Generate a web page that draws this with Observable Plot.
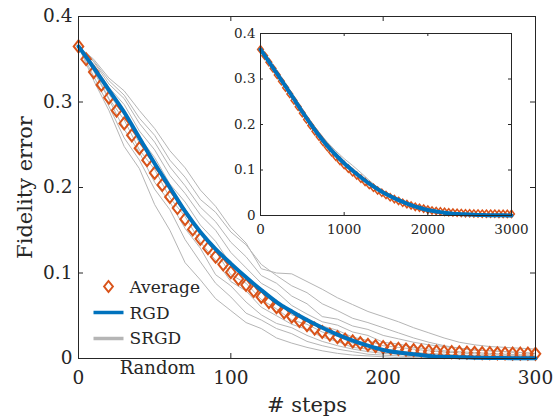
<!DOCTYPE html>
<html><head><meta charset="utf-8">
<script src="https://cdn.jsdelivr.net/npm/d3@7"></script>
<script src="https://cdn.jsdelivr.net/npm/@observablehq/plot@0.6"></script>
<style>
body{margin:0;background:#fff;}
#wrap{position:relative;width:557px;height:420px;}
#inset{position:absolute;left:220px;top:10px;}
svg{font-family:"DejaVu Serif",serif;}
</style></head><body>
<div id="wrap"><div id="main"></div><div id="inset"></div></div>
<script>
// ---------- DATA ----------
const xTicksMain = [0, 100, 200, 300];
const yTicksMain = [0, 0.1, 0.2, 0.3, 0.4];
const xTicksInset = [0, 1000, 2000, 3000];
const yTicksInset = [0, 0.1, 0.2, 0.3, 0.4];

// main plot: RGD sampled every 10 steps (0..300)
const stepsMain = d3.range(0, 301, 10);
const rgdMain = [0.365,0.340,0.314,0.288,0.258,0.228,0.200,0.172,0.148,0.128,0.111,0.095,0.080,0.066,0.055,0.045,0.036,0.028,0.021,0.015,0.010,0.007,0.005,0.003,0.002,0.0015,0.001,0.0007,0.0005,0.0003,0.0002];

// main plot: Average markers every 5 steps (0..300)
const stepsAvg = d3.range(0, 301, 5);
const avgMain = [0.365,0.350,0.335,0.320,0.305,0.290,0.275,0.261,0.246,0.232,
  0.217,0.203,0.189,0.176,0.163,0.151,0.140,0.129,0.119,0.110,
  0.101,0.093,0.086,0.079,0.072,0.066,0.060,0.054,0.049,0.044,
  0.039,0.035,0.031,0.028,0.025,0.022,0.020,0.018,0.016,0.0145,
  0.0133,0.0122,0.0112,0.0104,0.0097,0.0091,0.0086,0.0081,0.0077,0.0074,
  0.0071,0.0068,0.0066,0.0064,0.0062,0.0060,0.0059,0.0058,0.0057,0.0056,
  0.0055];

// main plot: SRGD runs, every 10 steps (0..300)
const srgd1 = [0.365,0.325,0.290,0.248,0.222,0.180,0.150,0.112,0.092,0.070,0.056,0.042,0.035,0.024,0.018,0.013,0.009,0.006,0.004,0.003,0.002,0.001,0.001,0.0005,0.0004,0.0003,0.0002,0.0002,0.0001,0.0001,0.0001];
const srgd2 = [0.365,0.330,0.295,0.258,0.232,0.198,0.174,0.139,0.113,0.088,0.072,0.053,0.045,0.035,0.029,0.020,0.015,0.011,0.008,0.005,0.004,0.003,0.002,0.0015,0.001,0.0008,0.0006,0.0005,0.0004,0.0003,0.0002];
const srgd3 = [0.365,0.336,0.303,0.268,0.241,0.206,0.183,0.152,0.129,0.098,0.085,0.066,0.051,0.041,0.036,0.027,0.020,0.015,0.011,0.008,0.006,0.005,0.004,0.003,0.0025,0.002,0.0018,0.0015,0.0013,0.0012,0.001];
const srgd4 = [0.365,0.338,0.304,0.279,0.244,0.221,0.188,0.166,0.136,0.115,0.090,0.079,0.060,0.050,0.040,0.034,0.025,0.020,0.013,0.011,0.008,0.006,0.0045,0.0035,0.003,0.0025,0.002,0.0017,0.0014,0.0012,0.001];
const srgd5 = [0.365,0.340,0.309,0.285,0.252,0.228,0.196,0.175,0.147,0.126,0.098,0.088,0.069,0.058,0.045,0.040,0.031,0.026,0.018,0.015,0.011,0.009,0.007,0.006,0.005,0.004,0.0035,0.003,0.0027,0.0023,0.002];
const srgd6 = [0.365,0.342,0.313,0.291,0.259,0.235,0.204,0.183,0.156,0.137,0.110,0.095,0.078,0.068,0.051,0.046,0.038,0.033,0.025,0.021,0.015,0.013,0.011,0.009,0.0075,0.0065,0.0055,0.0045,0.004,0.0035,0.003];
const srgd7 = [0.365,0.344,0.317,0.297,0.266,0.244,0.214,0.193,0.168,0.150,0.124,0.106,0.088,0.078,0.062,0.052,0.043,0.039,0.031,0.027,0.019,0.017,0.013,0.011,0.009,0.008,0.007,0.006,0.005,0.0045,0.004];
const srgd8 = [0.365,0.347,0.321,0.304,0.275,0.253,0.224,0.202,0.177,0.160,0.136,0.119,0.097,0.088,0.073,0.064,0.049,0.046,0.038,0.034,0.027,0.023,0.019,0.016,0.014,0.012,0.010,0.009,0.008,0.007,0.006];
const srgd9 = [0.365,0.348,0.325,0.308,0.281,0.261,0.232,0.212,0.186,0.171,0.148,0.133,0.110,0.097,0.085,0.077,0.064,0.056,0.047,0.042,0.036,0.030,0.024,0.019,0.015,0.012,0.010,0.009,0.008,0.007,0.006];
const srgd10 = [0.365,0.350,0.328,0.313,0.290,0.269,0.243,0.223,0.197,0.178,0.153,0.135,0.105,0.100,0.099,0.090,0.081,0.071,0.063,0.055,0.049,0.043,0.036,0.030,0.024,0.019,0.016,0.014,0.013,0.012,0.011];

// inset: every 100 steps (0..3000)
const stepsInset = d3.range(0, 3001, 100);
const rgdInset = [0.365,0.338,0.311,0.284,0.256,0.228,0.201,0.176,0.153,0.133,0.115,0.099,0.084,0.070,0.058,0.047,0.038,0.030,0.023,0.017,0.012,0.009,0.006,0.004,0.003,0.002,0.0012,0.0008,0.0005,0.0003,0.0002];
const srgdInset1 = [0.365,0.339,0.313,0.287,0.260,0.233,0.207,0.183,0.161,0.142,0.125,0.110,0.094,0.077,0.062,0.050,0.040,0.031,0.024,0.018,0.013,0.009,0.007,0.005,0.003,0.002,0.0015,0.001,0.0007,0.0005,0.0003];
const srgdInset2 = [0.365,0.336,0.307,0.279,0.251,0.223,0.196,0.171,0.148,0.128,0.110,0.094,0.079,0.066,0.054,0.044,0.035,0.027,0.021,0.015,0.011,0.008,0.005,0.004,0.003,0.002,0.001,0.0008,0.0005,0.0003,0.0002];
const srgdInset3 = [0.365,0.338,0.312,0.285,0.258,0.230,0.204,0.180,0.157,0.137,0.118,0.102,0.087,0.073,0.060,0.049,0.039,0.030,0.023,0.017,0.012,0.009,0.006,0.004,0.003,0.002,0.0013,0.0009,0.0006,0.0004,0.0003];
// inset average every 50 steps
const stepsInsetAvg = d3.range(0, 3001, 50);
const avgInset = [0.365,0.351,0.337,0.323,0.309,0.295,0.281,0.267,0.253,0.239,
  0.225,0.211,0.198,0.185,0.173,0.161,0.150,0.139,0.129,0.120,
  0.111,0.103,0.095,0.088,0.081,0.074,0.067,0.061,0.055,0.050,
  0.045,0.040,0.036,0.032,0.028,0.025,0.022,0.019,0.017,0.015,
  0.013,0.011,0.010,0.009,0.008,0.007,0.0065,0.006,0.0055,0.005,
  0.005,0.0045,0.0045,0.004,0.004,0.004,0.004,0.0035,0.0035,0.0035,
  0.0035];

const legendLabels = ["Average", "RGD", "SRGD"];
const xLabel = "# steps";
const yLabel = "Fidelity error";
const noteLabel = "Random";

// ---------- STYLE ----------
const blue = "#0072BD", orange = "#D95319", grey = "#b5b5b5", ink = "#262626";
const font = "DejaVu Serif";

const diamond = {draw(ctx, size) {
  const r = Math.sqrt(size / Math.PI), w = r * 0.8;
  ctx.moveTo(0, -r); ctx.lineTo(w, 0); ctx.lineTo(0, r); ctx.lineTo(-w, 0); ctx.closePath();
}};
const hline = {draw(ctx, size) {
  const r = Math.sqrt(size / Math.PI);
  ctx.moveTo(-r, 0); ctx.lineTo(r, 0);
}};

const toRows = (xs, ys, run = 0) => ys.map((v, i) => ({step: xs[i], v, run}));
const srgdMainRows = [srgd1,srgd2,srgd3,srgd4,srgd5,srgd6,srgd7,srgd8,srgd9,srgd10].flatMap((s, i) => toRows(stepsMain, s, i));
const rgdMainRows = toRows(stepsMain, rgdMain);
const avgMainRows = toRows(stepsAvg, avgMain);
const srgdInsetRows = [srgdInset1, srgdInset2, srgdInset3].flatMap((s, i) => toRows(stepsInset, s, i));
const rgdInsetRows = toRows(stepsInset, rgdInset);
const avgInsetRows = toRows(stepsInsetAvg, avgInset);

// ---------- MAIN ----------
const W = 557, H = 420, mL = 78, mR = 22, mT = 16, mB = 62;
const pW = W - mL - mR, pH = H - mT - mB, tk = 5;
const txt = {fill: ink, lineAnchor: "middle"};

const main = Plot.plot({
  width: W, height: H, marginLeft: mL, marginRight: mR, marginTop: mT, marginBottom: mB,
  style: {fontFamily: font, background: "white", color: ink, overflow: "visible"},
  x: {domain: [0, 300]},
  y: {domain: [0, 0.4]},
  marks: [
    Plot.line(srgdMainRows, {x: "step", y: "v", z: "run", stroke: grey, strokeWidth: 1}),
    Plot.dot(avgMainRows, {x: "step", y: "v", symbol: diamond, r: 6, stroke: orange, strokeWidth: 2, fill: "none"}),
    Plot.line(rgdMainRows, {x: "step", y: "v", stroke: blue, strokeWidth: 4, curve: "monotone-x"}),
    Plot.frame({stroke: ink}),
    Plot.tickX(xTicksMain, {x: d => d, insetTop: pH - tk, stroke: ink}),
    Plot.tickX(xTicksMain, {x: d => d, insetBottom: pH - tk, stroke: ink}),
    Plot.tickY(yTicksMain, {y: d => d, insetRight: pW - tk, stroke: ink}),
    Plot.tickY(yTicksMain, {y: d => d, insetLeft: pW - tk, stroke: ink}),
    Plot.axisX(xTicksMain, {tickSize: 0, tickPadding: 12, fontSize: 18.5, label: null, tickFormat: d => String(d), fill: ink}),
    Plot.axisY(yTicksMain, {tickSize: 0, tickPadding: 6, fontSize: 18.5, label: null, tickFormat: d => String(d), fill: ink}),
    Plot.text([xLabel], {...txt, frameAnchor: "bottom", textAnchor: "middle", dy: 47, fontSize: 21}),
    Plot.text([yLabel], {...txt, frameAnchor: "left", textAnchor: "middle", dx: -53, rotate: -90, fontSize: 21}),
    Plot.text([noteLabel], {...txt, frameAnchor: "bottom-left", textAnchor: "middle", dx: 79, dy: 9.5, fontSize: 18}),
    // legend
    Plot.dot([legendLabels[0]], {frameAnchor: "bottom-left", dx: 30, dy: -72, symbol: diamond, r: 5.5, stroke: orange, strokeWidth: 2, fill: "none"}),
    Plot.dot([legendLabels[1]], {frameAnchor: "bottom-left", dx: 30, dy: -46, symbol: hline, r: 15, stroke: blue, strokeWidth: 3.5, fill: "none"}),
    Plot.dot([legendLabels[2]], {frameAnchor: "bottom-left", dx: 30, dy: -20, symbol: hline, r: 15, stroke: grey, strokeWidth: 3.5, fill: "none"}),
    Plot.text([legendLabels[0]], {...txt, frameAnchor: "bottom-left", dx: 51, dy: -71, textAnchor: "start", fontSize: 17}),
    Plot.text([legendLabels[1]], {...txt, frameAnchor: "bottom-left", dx: 51, dy: -45, textAnchor: "start", fontSize: 17}),
    Plot.text([legendLabels[2]], {...txt, frameAnchor: "bottom-left", dx: 51, dy: -20, textAnchor: "start", fontSize: 17})
  ]
});
document.getElementById("main").append(main);

// ---------- INSET ----------
const iW = 320, iH = 230, iL = 40, iR = 29, iT = 23, iB = 25;
const ipW = iW - iL - iR, ipH = iH - iT - iB, itk = 3;
const inset = Plot.plot({
  width: iW, height: iH, marginLeft: iL, marginRight: iR, marginTop: iT, marginBottom: iB,
  style: {fontFamily: font, background: "transparent", color: ink, overflow: "visible"},
  x: {domain: [0, 3000]},
  y: {domain: [0, 0.4]},
  marks: [
    Plot.frame({fill: "white", stroke: null}),
    Plot.line(srgdInsetRows, {x: "step", y: "v", z: "run", stroke: grey, strokeWidth: 1}),
    Plot.dot(avgInsetRows, {x: "step", y: "v", symbol: diamond, r: 3.6, stroke: orange, strokeWidth: 1.5, fill: "none"}),
    Plot.line(rgdInsetRows, {x: "step", y: "v", stroke: blue, strokeWidth: 4, curve: "monotone-x"}),
    Plot.frame({stroke: ink}),
    Plot.tickX(xTicksInset, {x: d => d, insetTop: ipH - itk, stroke: ink}),
    Plot.tickX(xTicksInset, {x: d => d, insetBottom: ipH - itk, stroke: ink}),
    Plot.tickY(yTicksInset, {y: d => d, insetRight: ipW - itk, stroke: ink}),
    Plot.tickY(yTicksInset, {y: d => d, insetLeft: ipW - itk, stroke: ink}),
    Plot.axisX(xTicksInset, {tickSize: 0, tickPadding: 9, fontSize: 13.5, label: null, tickFormat: d => String(d), fill: ink}),
    Plot.axisY(yTicksInset, {tickSize: 0, tickPadding: 5, fontSize: 13.5, label: null, tickFormat: d => String(d), fill: ink})
  ]
});
document.getElementById("inset").append(inset);
</script>
</body></html>
